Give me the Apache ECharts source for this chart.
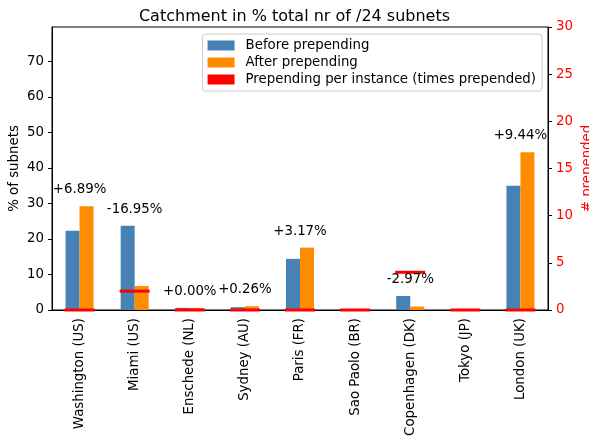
<!DOCTYPE html>
<html>
<head>
<meta charset="utf-8">
<script src="https://cdn.jsdelivr.net/npm/echarts@6/dist/echarts.min.js"></script>
<style>
  html, body { margin: 0; padding: 0; background: #fff; }
  #chart { width: 589px; height: 440px; }
</style>
</head>
<body>
<div id="chart"></div>
<script>
var sites = ['Washington (US)', 'Miami (US)', 'Enschede (NL)', 'Sydney (AU)', 'Paris (FR)',
  'Sao Paolo (BR)', 'Copenhagen (DK)', 'Tokyo (JP)', 'London (UK)'];
var before = [22.3, 23.7, 0.6, 0.8, 14.4, 0.2, 3.94, 0.2, 35.0];
var after = [29.19, 6.75, 0.6, 1.06, 17.57, 0.2, 0.97, 0.2, 44.44];
var prepends = [0, 2, 0, 0, 0, 0, 4, 0, 0];
var changes = ['+6.89%', '-16.95%', '+0.00%', '+0.26%', '+3.17%', '', '-2.97%', '', '+9.44%'];

var font = 'DejaVu Sans';
var fs = 13.33;
var chart = echarts.init(document.getElementById('chart'));

// annotation sits a bit above the taller bar of each pair
var notes = sites.map(function (s, i) {
  return { value: [i, Math.max(before[i], after[i]) + 4.6], label: { formatter: changes[i] } };
});

chart.setOption({
  animation: false,
  textStyle: { fontFamily: font },
  title: {
    text: 'Catchment in % total nr of /24 subnets',
    left: 'center', top: 4,
    textStyle: { fontFamily: font, fontSize: 16, fontWeight: 'normal', color: '#000' }
  },
  legend: {
    orient: 'vertical',
    right: 47, top: 34,
    padding: [5, 6, 5, 5],
    itemWidth: 27, itemHeight: 10, itemGap: 4,
    borderColor: '#ccc', borderWidth: 1, borderRadius: 3,
    textStyle: { fontFamily: font, fontSize: fs, color: '#000', padding: [0, 0, 0, 6] },
    data: [
      { name: 'Before prepending', icon: 'rect' },
      { name: 'After prepending', icon: 'rect' },
      { name: 'Prepending per instance (times prepended)', icon: 'rect' }
    ]
  },
  grid: {
    left: 52, right: 41, top: 27, bottom: 130,
    outerBoundsMode: 'none',
    containLabel: false,
    show: true, borderColor: '#000', borderWidth: 1
  },
  xAxis: {
    type: 'category',
    data: sites,
    axisLine: { lineStyle: { color: '#000' } },
    axisTick: { alignWithLabel: true, length: 4, lineStyle: { color: '#000' } },
    axisLabel: { rotate: 90, fontSize: fs, color: '#000', fontFamily: font, margin: 8 }
  },
  yAxis: [{
    type: 'value',
    min: 0, max: 79.7, interval: 10,
    name: '% of subnets',
    nameLocation: 'middle', nameGap: 31, nameRotate: 90,
    nameMoveOverlap: false,
    nameTextStyle: { fontSize: fs, color: '#000', fontFamily: font },
    splitLine: { show: false },
    axisLine: { show: true, lineStyle: { color: '#000' } },
    axisTick: { show: true, length: 4, customValues: [0, 10, 20, 30, 40, 50, 60, 70], lineStyle: { color: '#000' } },
    axisLabel: { fontSize: fs, color: '#000', fontFamily: font, margin: 8, customValues: [0, 10, 20, 30, 40, 50, 60, 70] }
  }, {
    type: 'value',
    min: 0, max: 30, interval: 5,
    name: '# prepended',
    nameLocation: 'middle', nameGap: 33, nameRotate: 90,
    nameMoveOverlap: false,
    nameTextStyle: { fontSize: fs, color: '#ff0000', fontFamily: font },
    splitLine: { show: false },
    axisLine: { show: true, lineStyle: { color: '#000' } },
    axisTick: { show: true, length: 4, lineStyle: { color: '#000' } },
    axisLabel: { fontSize: fs, color: '#ff0000', fontFamily: font, margin: 8 }
  }],
  series: [{
    name: 'Before prepending',
    type: 'bar',
    data: before,
    barWidth: 14, barGap: '0%',
    itemStyle: { color: '#4682b4' }
  }, {
    name: 'After prepending',
    type: 'bar',
    data: after,
    barWidth: 14,
    itemStyle: { color: '#ff8c00' }
  }, {
    name: 'Prepending per instance (times prepended)',
    type: 'scatter',
    yAxisIndex: 1,
    data: prepends,
    symbol: 'rect',
    symbolSize: [30, 3],
    itemStyle: { color: '#ff0000', opacity: 1 },
    z: 5
  }, {
    type: 'scatter',
    data: notes,
    symbolSize: 1,
    itemStyle: { opacity: 0 },
    silent: true,
    label: {
      show: true, position: 'inside', fontSize: fs, color: '#000', fontFamily: font,
      textBorderWidth: 0, opacity: 1
    },
    z: 6
  }]
});
</script>
</body>
</html>
